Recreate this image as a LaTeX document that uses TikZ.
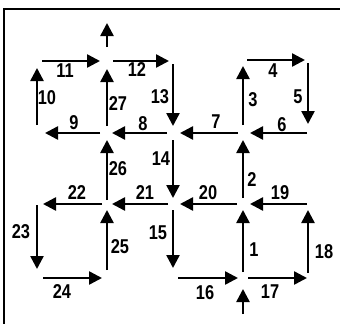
\documentclass[tikz,border=0pt]{standalone}
\usepackage{fontspec}
\setmainfont{Liberation Sans}[FakeStretch=0.82]
\usetikzlibrary{arrows.meta}
\begin{document}
\begin{tikzpicture}[x=1pt,y=-1pt,
  flow/.style={line width=2.5pt,-{Triangle[length=13pt,width=13pt]}},
  num/.style={font=\fontsize{20}{20}\selectfont\bfseries,inner sep=0pt},
  frameline/.style={line width=2.4pt}]
\useasboundingbox (0,0) rectangle (340,324);
% grid junctions: columns A..E, rows 1..4
\coordinate (A1) at (37,61);  \coordinate (B1) at (107,61);
\coordinate (C1) at (173,61); \coordinate (D1) at (243,60);
\coordinate (E1) at (308,60);
\coordinate (A2) at (37,133); \coordinate (B2) at (107,133);
\coordinate (C2) at (173,133); \coordinate (D2) at (243,133);
\coordinate (E2) at (308,133);
\coordinate (A3) at (37,204); \coordinate (B3) at (107,204);
\coordinate (C3) at (173,204); \coordinate (D3) at (243,204);
\coordinate (E3) at (308,204);
\coordinate (A4) at (37,278); \coordinate (B4) at (107,278);
\coordinate (C4) at (173,278); \coordinate (D4) at (243,278);
\coordinate (E4) at (308,278);
% free ends of the exit and entry arrows
\coordinate (out) at (107,23);
\coordinate (in) at (243,314);
% frame (top and left edges)
\coordinate (fTL) at (4,9); \coordinate (fTR) at (340,9); \coordinate (fBL) at (4,324);
\draw[frameline] (fTR) -- (fTL) -- (fBL);
% connectors
\draw[flow,shorten <=14pt] (B1) -- (out);
\draw[flow,shorten <=5pt,shorten >=7pt] (A1) -- (B1);
\draw[flow,shorten <=6pt,shorten >=4pt] (B1) -- (C1);
\draw[flow,shorten <=8pt,shorten >=7pt] (A2) -- (A1);
\draw[flow,shorten <=7pt,shorten >=8pt] (B2) -- (B1);
\draw[flow,shorten <=3pt,shorten >=7pt] (C1) -- (C2);
\draw[flow,shorten <=7pt,shorten >=8pt] (B2) -- (A2);
\draw[flow,shorten <=6pt,shorten >=5pt] (C2) -- (B2);
\draw[flow,shorten <=5pt,shorten >=7pt] (D2) -- (C2);
\draw[flow,shorten <=1pt,shorten >=7pt] (E2) -- (D2);
\draw[flow,shorten <=8pt,shorten >=6pt] (D2) -- (D1);
\draw[flow,shorten <=4pt,shorten >=3pt] (D1) -- (E1);
\draw[flow,shorten <=3pt,shorten >=9pt] (E1) -- (E2);
\draw[flow,shorten <=7pt,shorten >=6pt] (C2) -- (C3);
\draw[flow,shorten <=6pt,shorten >=7pt] (D3) -- (D2);
\draw[flow,shorten <=5pt,shorten >=5pt] (C3) -- (B3);
\draw[flow,shorten <=6pt,shorten >=7pt] (D3) -- (C3);
\draw[flow,shorten <=1pt,shorten >=7pt] (E3) -- (D3);
\draw[flow,shorten <=5pt,shorten >=6pt] (B3) -- (A3);
\draw[flow,shorten <=4pt,shorten >=7pt] (B3) -- (B2);
\draw[flow,shorten <=1pt,shorten >=9pt] (A3) -- (A4);
\draw[flow,shorten <=8pt,shorten >=6pt] (B4) -- (B3);
\draw[flow,shorten <=6pt,shorten >=5pt] (A4) -- (B4);
\draw[flow,shorten <=6pt,shorten >=10pt] (C3) -- (C4);
\draw[flow,shorten <=6pt,shorten >=6pt] (D4) -- (D3);
\draw[flow,shorten <=5pt,shorten >=5pt] (C4) -- (D4);
\draw[flow,shorten <=5pt,shorten >=1pt] (D4) -- (E4);
\draw[flow,shorten <=5pt,shorten >=6pt] (E4) -- (E3);
\draw[flow,shorten >=11pt] (in) -- (D4);
% labels
\node[num] (l1)  at (254,250) {1};
\node[num] (l2)  at (252,180) {2};
\node[num] (l3)  at (253,100) {3};
\node[num] (l4)  at (273,71)  {4};
\node[num] (l5)  at (298,97)  {5};
\node[num] (l6)  at (282,125) {6};
\node[num] (l7)  at (216,122) {7};
\node[num] (l8)  at (143,124) {8};
\node[num] (l9)  at (74,123)  {9};
\node[num] (l10) at (47,98)   {10};
\node[num] (l11) at (65,71)   {11};
\node[num] (l12) at (137,70)  {12};
\node[num] (l13) at (160,97)  {13};
\node[num] (l14) at (161,159) {14};
\node[num] (l15) at (158,233) {15};
\node[num] (l16) at (205,293) {16};
\node[num] (l17) at (270,292) {17};
\node[num] (l18) at (324,252) {18};
\node[num] (l19) at (280,193) {19};
\node[num] (l20) at (208,193) {20};
\node[num] (l21) at (145,193) {21};
\node[num] (l22) at (77,193)  {22};
\node[num] (l23) at (21,232)  {23};
\node[num] (l24) at (62,292)  {24};
\node[num] (l25) at (120,247) {25};
\node[num] (l26) at (118,169) {26};
\node[num] (l27) at (118,104) {27};
\end{tikzpicture}
\end{document}
